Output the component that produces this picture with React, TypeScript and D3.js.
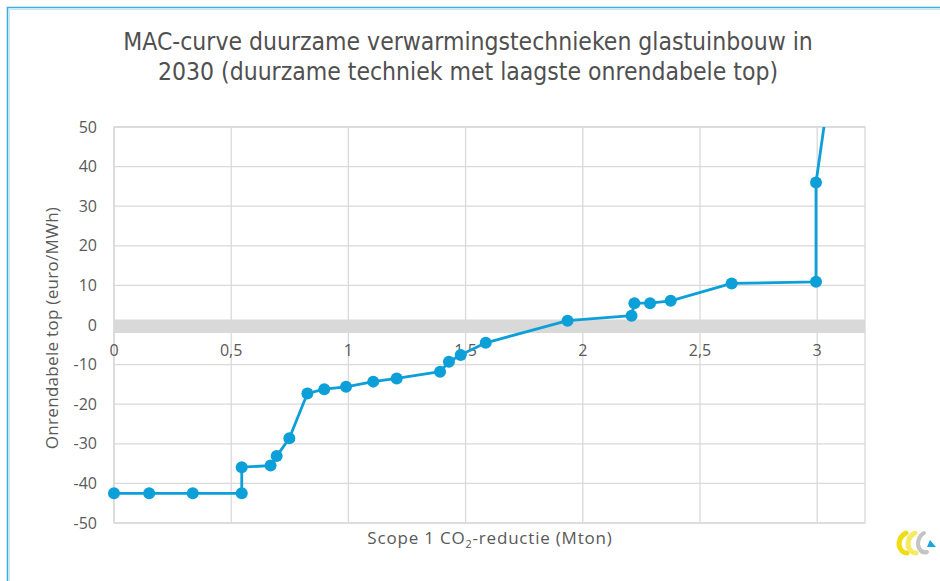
import React from 'react';
import * as d3 from 'd3';

// reduction in Mton (x) and unprofitable top in euro/MWh (y)
const reduction = [
  0, 0.15, 0.336, 0.545, 0.545, 0.668, 0.694, 0.748, 0.825, 0.897, 0.99, 1.106, 1.206,
  1.391, 1.429, 1.479, 1.586, 1.935, 2.208, 2.22, 2.287, 2.375, 2.635, 2.995, 2.995, 3.07,
];
const topCost = [
  -42.5, -42.5, -42.5, -42.5, -35.9, -35.5, -33.1, -28.6, -17.3, -16.2, -15.6, -14.3, -13.5,
  -11.8, -9.3, -7.6, -4.5, 1.1, 2.35, 5.5, 5.5, 6.1, 10.5, 10.9, 36.0, 67,
];
const xTicks = [0, 0.5, 1, 1.5, 2, 2.5, 3];
const yTicks = [50, 40, 30, 20, 10, 0, -10, -20, -30, -40, -50];
const titleLines = [
  'MAC-curve duurzame verwarmingstechnieken glastuinbouw in',
  '2030 (duurzame techniek met laagste onrendabele top)',
];

const W = 940;
const H = 581;
const plot = { left: 114, right: 865, top: 127, bottom: 523 };
const blue = '#0d9fd8';
const grid = '#d9d9d9';
const textCol = '#595959';

export default function App() {
  const x = d3.scaleLinear().domain([0, 3.204]).range([plot.left, plot.right]);
  const y = d3.scaleLinear().domain([-50, 50]).range([plot.bottom, plot.top]);
  const pts = reduction.map((r, i) => ({ r, v: topCost[i] }));
  const line = d3.line<{ r: number; v: number }>().x(d => x(d.r)).y(d => y(d.v));
  const fmt = (d: number) => String(d).replace('.', ',');

  return (
    <svg width={W} height={H} style={{ position: 'absolute', left: 0, top: 0, background: '#fff' }}>
      <defs>
        <clipPath id="plotclip">
          <rect x={plot.left} y={plot.top} width={plot.right - plot.left} height={plot.bottom - plot.top} />
        </clipPath>
      </defs>
      {/* outer frame */}
      <path d={`M7.5,${H} V7.5 H${W}`} fill="none" stroke="#3aaee0" strokeWidth={1.6} />
      <path d={`M9.5,${H} V9.5 H${W}`} fill="none" stroke="#c8e8f6" strokeWidth={1} />

      {/* title */}
      {titleLines.map((t, i) => (
        <text key={i} x={468} y={50 + i * 30} textAnchor="middle" fill="#505050"
          style={{ fontFamily: 'DejaVu Sans Condensed', fontSize: 24.5 }}>{t}</text>
      ))}

      {/* gridlines */}
      {yTicks.map(t => (
        <line key={'y' + t} x1={plot.left} x2={plot.right} y1={y(t)} y2={y(t)} stroke={grid} strokeWidth={1.3} />
      ))}
      {xTicks.map(t => (
        <line key={'x' + t} x1={x(t)} x2={x(t)} y1={plot.top} y2={plot.bottom} stroke={grid} strokeWidth={1.3} />
      ))}
      <rect x={plot.left} y={plot.top} width={plot.right - plot.left} height={plot.bottom - plot.top}
        fill="none" stroke={grid} strokeWidth={1.3} />
      {/* zero axis band */}
      <line x1={plot.left} x2={plot.right} y1={y(0) + 1.2} y2={y(0) + 1.2} stroke={grid} strokeWidth={13.5} />

      {/* y tick labels */}
      {yTicks.map(t => (
        <text key={'yl' + t} x={97} y={y(t)} dy="0.35em" textAnchor="end" fill={textCol}
          style={{ fontFamily: 'Open Sans', fontSize: 16 }}>{t}</text>
      ))}
      {/* x tick labels */}
      {xTicks.map(t => (
        <text key={'xl' + t} x={x(t)} y={350} dy="0.35em" textAnchor="middle" fill={textCol}
          style={{ fontFamily: 'Open Sans', fontSize: 16 }}>{fmt(t)}</text>
      ))}

      {/* series */}
      <g clipPath="url(#plotclip)">
        <path d={line(pts) || ''} fill="none" stroke={blue} strokeWidth={2.8} strokeLinejoin="round" />
      </g>
      {pts.filter(p => p.v <= 50).map((p, i) => (
        <circle key={i} cx={x(p.r)} cy={y(p.v)} r={6} fill={blue} />
      ))}

      {/* axis titles */}
      <text x={490} y={544} textAnchor="middle" fill={textCol}
        style={{ fontFamily: 'Open Sans', fontSize: 17, letterSpacing: 0.8 }}>
        Scope 1 CO<tspan dy={4} fontSize={11}>2</tspan><tspan dy={-4}>-reductie (Mton)</tspan>
      </text>
      <text transform={`translate(58,${328}) rotate(-90)`} textAnchor="middle" fill={textCol}
        style={{ fontFamily: 'Open Sans', fontSize: 17, letterSpacing: 0.3 }}>Onrendabele top (euro/MWh)</text>

      {/* logo */}
      <g transform="translate(895,531)" fill="none" strokeLinecap="round">
        <path d="M11,2 C4,5 3,13 5,17 C7,21 10,22 12,22" stroke="#efdc12" strokeWidth={5} />
        <path d="M20,2 C13,5 12,13 14,17 C16,21 19,22 21,22" stroke="#f5ea62" strokeWidth={5} />
        <path d="M29,2 C23,5 22,13 24,17 C26,21 29,22 32,21" stroke="#c4c4c4" strokeWidth={4} />
        <path d="M35,9 L41,16 L32,16 Z" fill="#1aa5e0" />
      </g>
    </svg>
  );
}
